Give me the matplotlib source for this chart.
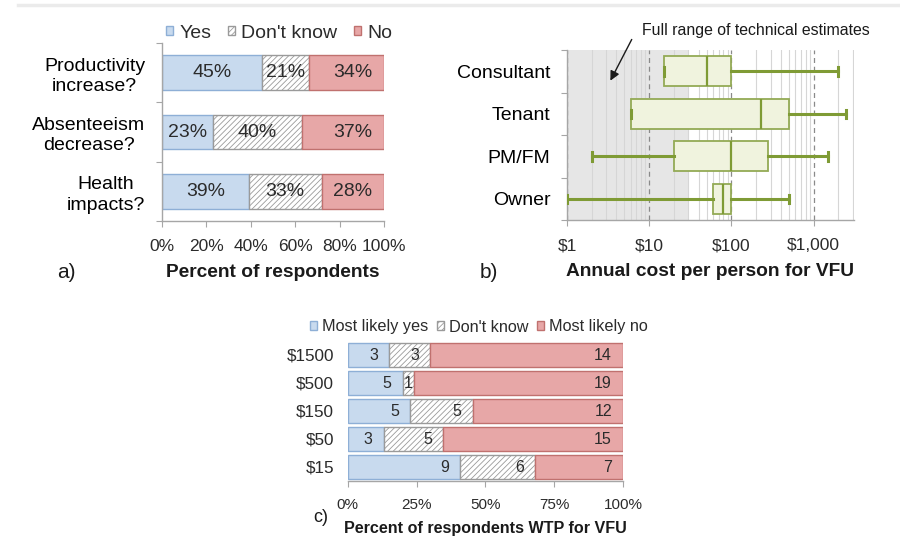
import matplotlib
matplotlib.use("Agg")
import matplotlib.pyplot as plt
import numpy as np
from matplotlib.patches import Patch
from matplotlib.lines import Line2D
from matplotlib.ticker import FixedLocator, NullFormatter

plt.rcParams['font.family'] = ['Liberation Sans', 'DejaVu Sans']
plt.rcParams['hatch.linewidth'] = 0.6
plt.rcParams['hatch.color'] = '#9a9a9a'

# ---------------- data ----------------
# Panel a
a_categories = ["Productivity\nincrease?", "Absenteeism\ndecrease?", "Health\nimpacts?"]
a_yes = [45, 23, 39]
a_dk = [21, 40, 33]
a_no = [34, 37, 28]
a_ticks = [0, 20, 40, 60, 80, 100]
a_ticklabels = ["0%", "20%", "40%", "60%", "80%", "100%"]

# Panel b (box plot summary, $ per person per year)
b_categories = ["Consultant", "Tenant", "PM/FM", "Owner"]
b_whislo = [15, 6, 2, 1]
b_q1 = [15, 6, 20, 60]
b_med = [50, 230, 100, 80]
b_q3 = [100, 500, 280, 100]
b_whishi = [2000, 2500, 1500, 500]
b_tech_range = (1, 30)
b_ticks = [1, 10, 100, 1000]
b_ticklabels = ["$1", "$10", "$100", "$1,000"]

# Panel c (counts)
c_categories = ["$1500", "$500", "$150", "$50", "$15"]
c_yes = [3, 5, 5, 3, 9]
c_dk = [3, 1, 5, 5, 6]
c_no = [14, 19, 12, 15, 7]
c_ticks = [0, 25, 50, 75, 100]
c_ticklabels = ["0%", "25%", "50%", "75%", "100%"]

# ---------------- style ----------------
BLUE = '#c8daee'
BLUE_E = '#8eafd6'
RED = '#e7a7a7'
RED_E = '#c0716f'
DK = 'white'
DK_E = '#9a9a9a'
TXT = '#2b2b2b'
SPINE = '#a6a6a6'
GREEN = '#7f9b35'
BOXFILL = '#f0f3de'

fig = plt.figure(figsize=(9, 5.5), dpi=100)
fig.add_artist(Line2D([0.02, 1.0], [1-5/550, 1-5/550], color='#ebebeb', lw=2.5,
                      transform=fig.transFigure))

def style_axes(ax):
    for s in ['top', 'right']:
        ax.spines[s].set_visible(False)
    for s in ['left', 'bottom']:
        ax.spines[s].set_color(SPINE)
        ax.spines[s].set_linewidth(1.0)
    ax.tick_params(colors=SPINE, labelcolor=TXT)

# ---------------- Panel a ----------------
axa = fig.add_axes([162/900, 1-221/550, 222/900, 178/550])
ya = np.arange(len(a_categories))
h = 0.58
yes = np.array(a_yes); dk = np.array(a_dk); no = np.array(a_no)
axa.barh(ya, yes, height=h, color=BLUE, edgecolor=BLUE_E, lw=1.0)
axa.barh(ya, dk, left=yes, height=h, color=DK, edgecolor=DK_E, lw=1.0, hatch='//////')
axa.barh(ya, no, left=yes+dk, height=h, color=RED, edgecolor=RED_E, lw=1.0)
for i in range(len(ya)):
    axa.text(yes[i]/2, ya[i], f"{yes[i]}%", ha='center', va='center', fontsize=14, color=TXT)
    axa.text(yes[i]+dk[i]/2, ya[i], f"{dk[i]}%", ha='center', va='center', fontsize=14, color=TXT)
    axa.annotate(f"{no[i]}%", xy=(100, ya[i]), xytext=(-8.5, 0), textcoords='offset points',
                 ha='right', va='center', fontsize=14, color=TXT)
axa.set_xlim(0, 100)
axa.set_ylim(len(ya)-0.5, -0.5)
style_axes(axa)
axa.set_xticks(a_ticks)
axa.set_xticklabels(a_ticklabels, fontsize=12.5)
axa.tick_params(axis='x', length=4, pad=9)
axa.yaxis.set_major_locator(FixedLocator(np.arange(-0.5, len(ya), 1.0)))
axa.yaxis.set_major_formatter(NullFormatter())
axa.set_yticks(ya, minor=True)
axa.set_yticklabels(a_categories, minor=True, fontsize=14, ha='right', multialignment='center',
                    linespacing=1.25)
axa.tick_params(axis='y', which='major', length=4)
axa.tick_params(axis='y', which='minor', length=0, pad=12)
axa.set_xlabel("Percent of respondents", fontsize=13.8, fontweight='bold', color='#1a1a1a', labelpad=7)
fig.legend(handles=[Patch(facecolor=BLUE, edgecolor=BLUE_E, label='Yes'),
                    Patch(facecolor=DK, edgecolor=DK_E, hatch='//////', label="Don't know"),
                    Patch(facecolor=RED, edgecolor=RED_E, label='No')],
           loc='center', bbox_to_anchor=(279/900, 1-33/550), ncol=3, frameon=False,
           fontsize=14, handlelength=0.38, handleheight=0.38, handletextpad=0.3,
           columnspacing=0.85, labelcolor=TXT)
fig.text(57/900, 1-273/550, "a)", fontsize=15, va='center', ha='left', color='#1a1a1a')

# ---------------- Panel b ----------------
axb = fig.add_axes([567/900, 1-220/550, 287/900, 170/550])
nb = len(b_categories)
yb = np.arange(nb)[::-1]  # Consultant on top
stats = []
for i in range(nb):
    stats.append(dict(whislo=b_whislo[i], q1=b_q1[i], med=b_med[i], q3=b_q3[i],
                      whishi=b_whishi[i], fliers=[]))
axb.set_xscale('log')
axb.axvspan(b_tech_range[0], b_tech_range[1], color='#e6e6e6', zorder=0, lw=0)
axb.bxp(stats, positions=yb, orientation='horizontal', widths=0.7, capwidths=0.2,
        patch_artist=True, showfliers=False,
        boxprops=dict(facecolor=BOXFILL, edgecolor='#93aa55', lw=1.3),
        medianprops=dict(color=GREEN, lw=1.6),
        whiskerprops=dict(color=GREEN, lw=2.2),
        capprops=dict(color=GREEN, lw=2.2), zorder=3)
axb.set_xlim(1, 3100)
axb.set_ylim(-0.5, nb-0.5)
style_axes(axb)
axb.set_xticks(b_ticks)
axb.set_xticklabels(b_ticklabels, fontsize=12.5)
axb.xaxis.set_minor_formatter(NullFormatter())
axb.tick_params(axis='x', which='major', length=4, pad=9)
axb.tick_params(axis='x', which='minor', length=0)
axb.grid(True, axis='x', which='minor', color='#d6d6d6', lw=0.8, zorder=1)
axb.grid(True, axis='x', which='major', color='#8a8a8a', lw=0.9, ls=(0, (4, 3)), zorder=1)
axb.set_axisbelow(True)
axb.yaxis.set_major_locator(FixedLocator(np.arange(-0.5, nb, 1.0)))
axb.yaxis.set_major_formatter(NullFormatter())
axb.set_yticks(yb, minor=True)
axb.set_yticklabels(b_categories, minor=True, fontsize=14)
axb.tick_params(axis='y', which='major', length=4)
axb.tick_params(axis='y', which='minor', length=0, pad=12)
axb.set_xlabel("Annual cost per person for VFU", fontsize=13.8, fontweight='bold', color='#1a1a1a', labelpad=7)
fig.text(642/900, 1-31/550, "Full range of technical estimates", fontsize=11.4, va='center',
         ha='left', color='#1a1a1a')
axb.annotate("", xy=(3.25, 2.72), xycoords='data', xytext=(633/900, 1-37/550),
             textcoords='figure fraction',
             arrowprops=dict(arrowstyle='-|>', color='#1a1a1a', lw=1.0, mutation_scale=14))
fig.text(480/900, 1-273/550, "b)", fontsize=15, va='center', ha='left', color='#1a1a1a')

# ---------------- Panel c ----------------
axc = fig.add_axes([347.7/900, 1-481/550, 275.3/900, 140/550])
nc = len(c_categories)
yc = np.arange(nc)
cy = np.array(c_yes, float); cd = np.array(c_dk, float); cn = np.array(c_no, float)
tot = cy + cd + cn
py = cy/tot*100; pd_ = cd/tot*100; pn = cn/tot*100
hc = 0.85
axc.barh(yc, py, height=hc, color=BLUE, edgecolor=BLUE_E, lw=1.0)
axc.barh(yc, pd_, left=py, height=hc, color=DK, edgecolor=DK_E, lw=1.0, hatch='//////')
axc.barh(yc, pn, left=py+pd_, height=hc, color=RED, edgecolor=RED_E, lw=1.0)
for i in range(nc):
    starts = [0, py[i], py[i]+pd_[i]]
    ends = [py[i], py[i]+pd_[i], 100]
    vals = [c_yes[i], c_dk[i], c_no[i]]
    for s, e, v in zip(starts, ends, vals):
        if e - s < 8:
            axc.text((s+e)/2, yc[i], str(v), ha='center', va='center', fontsize=11.5, color=TXT)
        else:
            axc.annotate(str(v), xy=(e, yc[i]), xytext=(-8, 0), textcoords='offset points',
                         ha='right', va='center', fontsize=11.5, color=TXT)
axc.set_xlim(0, 100)
axc.set_ylim(nc-0.5, -0.5)
style_axes(axc)
axc.spines['left'].set_visible(False)
axc.set_xticks(c_ticks)
axc.set_xticklabels(c_ticklabels, fontsize=11)
axc.tick_params(axis='x', length=4, pad=8)
axc.set_yticks(yc)
axc.set_yticklabels(c_categories, fontsize=12.3)
axc.tick_params(axis='y', length=0, pad=10)
axc.set_xlabel("Percent of respondents WTP for VFU", fontsize=11.6, fontweight='bold', color='#1a1a1a', labelpad=7)
fig.legend(handles=[Patch(facecolor=BLUE, edgecolor=BLUE_E, label='Most likely yes'),
                    Patch(facecolor=DK, edgecolor=DK_E, hatch='//////', label="Don't know"),
                    Patch(facecolor=RED, edgecolor=RED_E, label='Most likely no')],
           loc='center', bbox_to_anchor=(479/900, 1-327/550), ncol=3, frameon=False,
           fontsize=11.7, handlelength=0.43, handleheight=0.43, handletextpad=0.3,
           columnspacing=0.55, labelcolor=TXT)
fig.text(313/900, 1-518/550, "c)", fontsize=13, va='center', ha='left', color='#1a1a1a')

fig.savefig("out.png", dpi=100)
